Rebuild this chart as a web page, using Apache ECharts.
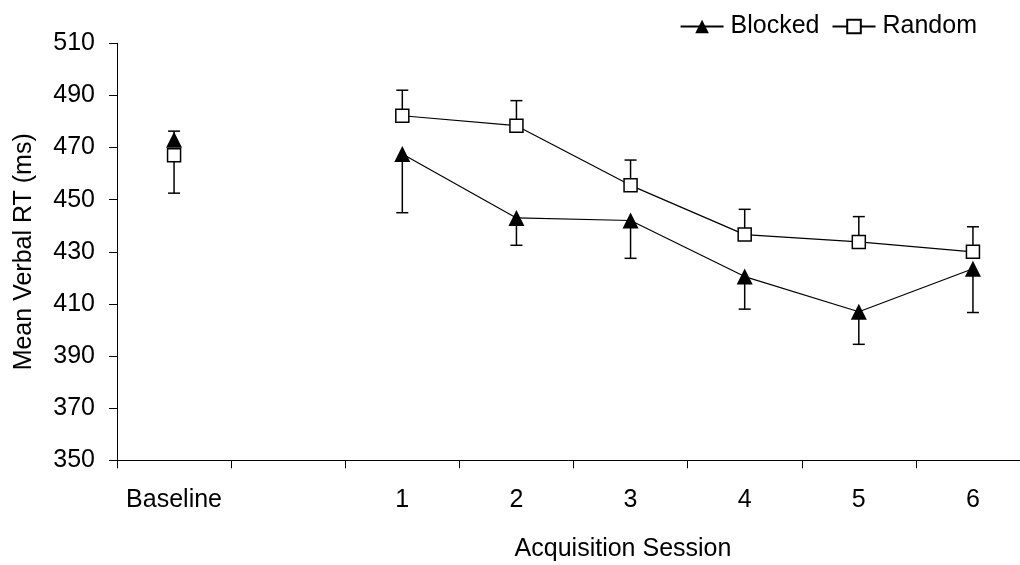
<!DOCTYPE html>
<html>
<head>
<meta charset="utf-8">
<style>
  html, body { margin: 0; padding: 0; background: #fff; }
  #chart { width: 1020px; height: 565px; }
</style>
<script src="https://cdn.jsdelivr.net/npm/echarts@6/dist/echarts.min.js"></script>
</head>
<body>
<div id="chart"></div>
<script>
// Session labels (the empty slot separates Baseline from the acquisition sessions)
var categories = ['Baseline', '', '1', '2', '3', '4', '5', '6'];

// Mean verbal RT (ms) per condition
var blockedMeans = [473, null, 467.5, 443, 442, 420.5, 407, 423.5];
var randomMeans  = [467, null, 482.2, 478.4, 455.5, 436.6, 433.8, 430];

// End value of each one-sided error bar
var blockedErrEnd = [476.3, null, 445, 432.5, 427.5, 408, 394.5, 406.7];
var randomErrEnd  = [452.5, null, 492, 488, 465.2, 446.3, 443.5, 439.6];

var yTicks = { min: 350, max: 510, step: 20 };

var FONT = '"Liberation Sans", Arial, Helvetica, sans-serif';

function errorData(means, ends) {
  var out = [];
  for (var i = 0; i < means.length; i++) {
    if (means[i] != null && ends[i] != null) out.push([i, means[i], ends[i]]);
  }
  return out;
}

function renderErrorBar(params, api) {
  var start = api.coord([api.value(0), api.value(1)]);
  var end = api.coord([api.value(0), api.value(2)]);
  var cap = 6;
  var style = { stroke: '#000', lineWidth: 1.5 };
  return {
    type: 'group',
    children: [
      { type: 'line', shape: { x1: start[0], y1: start[1], x2: end[0], y2: end[1] }, style: style },
      { type: 'line', shape: { x1: end[0] - cap, y1: end[1], x2: end[0] + cap, y2: end[1] }, style: style }
    ]
  };
}

var chart = echarts.init(document.getElementById('chart'), null, { renderer: 'canvas' });

chart.setOption({
  backgroundColor: '#ffffff',
  animation: false,
  textStyle: { fontFamily: FONT, color: '#000' },
  // The plot area runs past the right edge; the last category is cut off.
  grid: {
    left: 117, top: 43.3, width: 913, height: 417,
    containLabel: false,
    outerBoundsMode: 'none'
  },
  legend: {
    right: 38,
    top: 9,
    itemWidth: 43,
    itemHeight: 17,
    itemGap: 12,
    textStyle: { fontFamily: FONT, fontSize: 25, color: '#000', padding: [0, 0, 0, 2] },
    data: ['Blocked', 'Random']
  },
  xAxis: {
    type: 'category',
    data: categories,
    boundaryGap: true,
    axisLine: { lineStyle: { color: '#000', width: 1 } },
    axisTick: { show: true, length: 8, interval: 0, lineStyle: { color: '#000' } },
    axisLabel: { interval: 0, margin: 27, fontSize: 25, color: '#000', fontFamily: FONT },
    splitLine: { show: false }
  },
  yAxis: {
    type: 'value',
    min: yTicks.min,
    max: yTicks.max,
    interval: yTicks.step,
    name: 'Mean Verbal RT (ms)',
    nameLocation: 'middle',
    nameGap: 80,
    nameTextStyle: { fontSize: 25, color: '#000', fontFamily: FONT },
    axisLine: { show: true, lineStyle: { color: '#000', width: 1 } },
    axisTick: { show: true, length: 8, lineStyle: { color: '#000' } },
    axisLabel: { margin: 22, fontSize: 25, color: '#000', fontFamily: FONT },
    splitLine: { show: false }
  },
  graphic: [{
    type: 'text',
    x: 623,
    y: 549,
    style: {
      text: 'Acquisition Session',
      font: '25px ' + FONT,
      fill: '#000',
      align: 'center',
      verticalAlign: 'middle'
    }
  }],
  series: [
    {
      name: 'Blocked error',
      type: 'custom',
      renderItem: renderErrorBar,
      data: errorData(blockedMeans, blockedErrEnd),
      encode: { x: 0, y: [1, 2] },
      z: 1,
      silent: true
    },
    {
      name: 'Random error',
      type: 'custom',
      renderItem: renderErrorBar,
      data: errorData(randomMeans, randomErrEnd),
      encode: { x: 0, y: [1, 2] },
      z: 1,
      silent: true
    },
    {
      name: 'Blocked',
      type: 'line',
      data: blockedMeans,
      connectNulls: false,
      symbol: 'triangle',
      symbolSize: 16,
      showAllSymbol: true,
      lineStyle: { color: '#000', width: 1.2 },
      itemStyle: { color: '#000', borderColor: '#000', borderWidth: 0 },
      z: 3
    },
    {
      name: 'Random',
      type: 'line',
      data: randomMeans,
      connectNulls: false,
      symbol: 'rect',
      symbolSize: 13,
      showAllSymbol: true,
      lineStyle: { color: '#000', width: 1.2 },
      itemStyle: { color: '#fff', borderColor: '#000', borderWidth: 1.5 },
      z: 4
    }
  ]
});
</script>
</body>
</html>
